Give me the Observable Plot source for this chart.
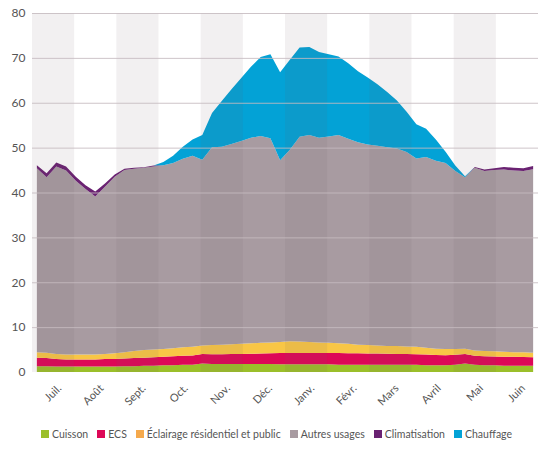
<!DOCTYPE html>
<html><head><meta charset="utf-8">
<script src="https://cdn.jsdelivr.net/npm/d3@7"></script>
<script src="https://cdn.jsdelivr.net/npm/@observablehq/plot@0.6"></script>
<style>
body{margin:0;background:#fff;font-family:Lato,"Open Sans",sans-serif;}
#wrap{position:relative;width:540px;}
#legend{display:flex;align-items:center;font-size:10.5px;color:#555;margin-left:41px;margin-top:10px;white-space:nowrap;}
#legend span.it{display:flex;align-items:center;margin-right:9px;}
#legend i{display:inline-block;width:8px;height:8px;margin-right:3px;}
</style></head>
<body><div id="wrap"></div>
<script>
const months = ["Juil.","Août","Sept.","Oct.","Nov.","Déc.","Janv.","Févr.","Mars","Avril","Mai","Juin"];
const series = ["Cuisson","ECS","Éclairage résidentiel et public","Autres usages","Climatisation","Chauffage"];
const areaColors = ["#9bbf2a","#dd0857","#f8c646","#a89ba1","#6a2272","#03a2d6"];
const legendColors = ["#9bbf2a","#dd0857","#f5a94c","#a89ba1","#6a2272","#03a2d6"];
const yTicks = [0,10,20,30,40,50,60,70,80];

const cuisson = [1.3,1.3,1.2,1.2,1.2, 1.2,1.2,1.2,1.2, 1.3,1.3,1.4,1.4, 1.5,1.5,1.6,1.6, 1.9,1.8,1.8,1.8,1.8, 1.8,1.8,1.8,1.7, 1.7,1.7,1.7,1.7, 1.7,1.6,1.6,1.6, 1.6,1.6,1.6,1.6,1.6, 1.6,1.5,1.5,1.5, 1.6,1.9,1.6,1.5, 1.5,1.4,1.4,1.4,1.4];
const ecs = [1.9,1.8,1.7,1.6,1.6, 1.6,1.6,1.7,1.7, 1.7,1.8,1.8,1.9, 1.9,2.0,2.0,2.1, 2.1,2.15,2.15,2.2,2.2, 2.25,2.3,2.4,2.55, 2.55,2.55,2.55,2.55, 2.55,2.65,2.6,2.6, 2.55,2.5,2.45,2.4,2.4, 2.35,2.4,2.3,2.25, 2.25,2.1,2.0,2.0, 1.95,2.0,2.0,1.95,1.9];
const eclairage = [1.2,1.2,1.1,1.1,1.1, 1.1,1.1,1.1,1.3, 1.4,1.6,1.7,1.7, 1.7,1.8,1.9,1.9, 1.9,2.05,2.15,2.2,2.3, 2.35,2.4,2.4,2.45, 2.6,2.55,2.45,2.35, 2.25,2.15,2.1,1.9, 1.85,1.8,1.75,1.8,1.7, 1.65,1.5,1.4,1.35, 1.25,1.2,1.2,1.2, 1.15,1.1,1.0,1.05,1.0];
const autres = [41.0,39.1,41.8,41.0,38.7, 36.9,35.2,37.3,39.3, 40.6,40.6,40.6,40.8, 41.0,41.3,42.0,42.6, 41.4,44.1,44.1,44.6,45.2, 45.8,46.1,45.5,40.5, 42.65,45.6,46.1,45.6, 46.0,46.4,45.7,45.1, 44.7,44.5,44.3,44.0,43.3, 42.0,42.5,41.9,41.5, 39.7,38.2,40.7,40.1, 40.4,40.6,40.5,40.4,40.9];
const climatisation = [0.7,0.9,0.9,0.9,0.9, 0.8,1.1,0.7,0.5, 0.3,0.2,0.1,0.2, 0,0,0,0, 0,0,0,0,0, 0,0,0,0, 0,0,0,0, 0,0,0,0, 0,0,0,0,0, 0,0,0,0, 0,0,0.2,0.3, 0.4,0.6,0.6,0.6,0.7];
const chauffage = [0,0,0,0,0, 0,0,0,0, 0,0,0,0, 0.7,1.6,2.7,3.6, 5.5,7.6,10.2,12.2,14.0, 15.8,17.6,18.7,19.6, 20.1,19.9,19.6,19.1, 18.3,17.5,16.8,15.8, 14.9,13.7,12.3,10.7,9.0, 7.6,6.3,4.7,2.5, 1.2,0.2,0,0, 0,0,0,0,0];

const valueLists = [cuisson, ecs, eclairage, autres, climatisation, chauffage];
const nWeeks = cuisson.length;
const rows = [];
series.forEach((s, k) => {
  valueLists[k].forEach((v, i) => rows.push({t: (i + 0.5) * 12 / nWeeks, serie: s, value: v}));
});
const bands = months.map((m, i) => ({i})).filter(d => d.i % 2 === 0);

const chart = Plot.plot({
  width: 540, height: 418,
  marginLeft: 32, marginRight: 2, marginTop: 13, marginBottom: 46,
  style: {fontFamily: "Lato, 'Open Sans', sans-serif", fontSize: "11px", color: "#555"},
  x: {domain: [0, 12], axis: null, label: null},
  y: {domain: [0, 80], axis: null, label: null},
  color: {domain: series, range: areaColors},
  marks: [
    Plot.areaY(rows, {x: "t", y: "value", fill: "serie", order: series, curve: "linear"}),
    Plot.rectX(bands, {x1: d => d.i, x2: d => d.i + 1, y1: 0, y2: 80, fill: "#6b5a60", fillOpacity: 0.09}),
    Plot.ruleY(yTicks.filter(d => d > 0), {stroke: "#c6bbbf", strokeOpacity: 0.85, strokeWidth: 1}),
    Plot.axisY(yTicks, {tickSize: 0, tickPadding: 7, fontSize: 12, fill: "#555", label: null}),
    Plot.axisX(months.map((m, i) => i + 0.5), {tickFormat: (d) => months[Math.floor(d)], tickRotate: -45, tickSize: 0, tickPadding: 6, dx: 6, dy: 8, fontSize: 11, fill: "#555", label: null})
  ]
});
const wrap = document.getElementById("wrap");
wrap.appendChild(chart);
const leg = document.createElement("div");
leg.id = "legend";
series.forEach((s, k) => {
  const it = document.createElement("span");
  it.className = "it";
  it.innerHTML = `<i style="background:${legendColors[k]}"></i>${s}`;
  leg.appendChild(it);
});
wrap.appendChild(leg);
</script></body></html>
